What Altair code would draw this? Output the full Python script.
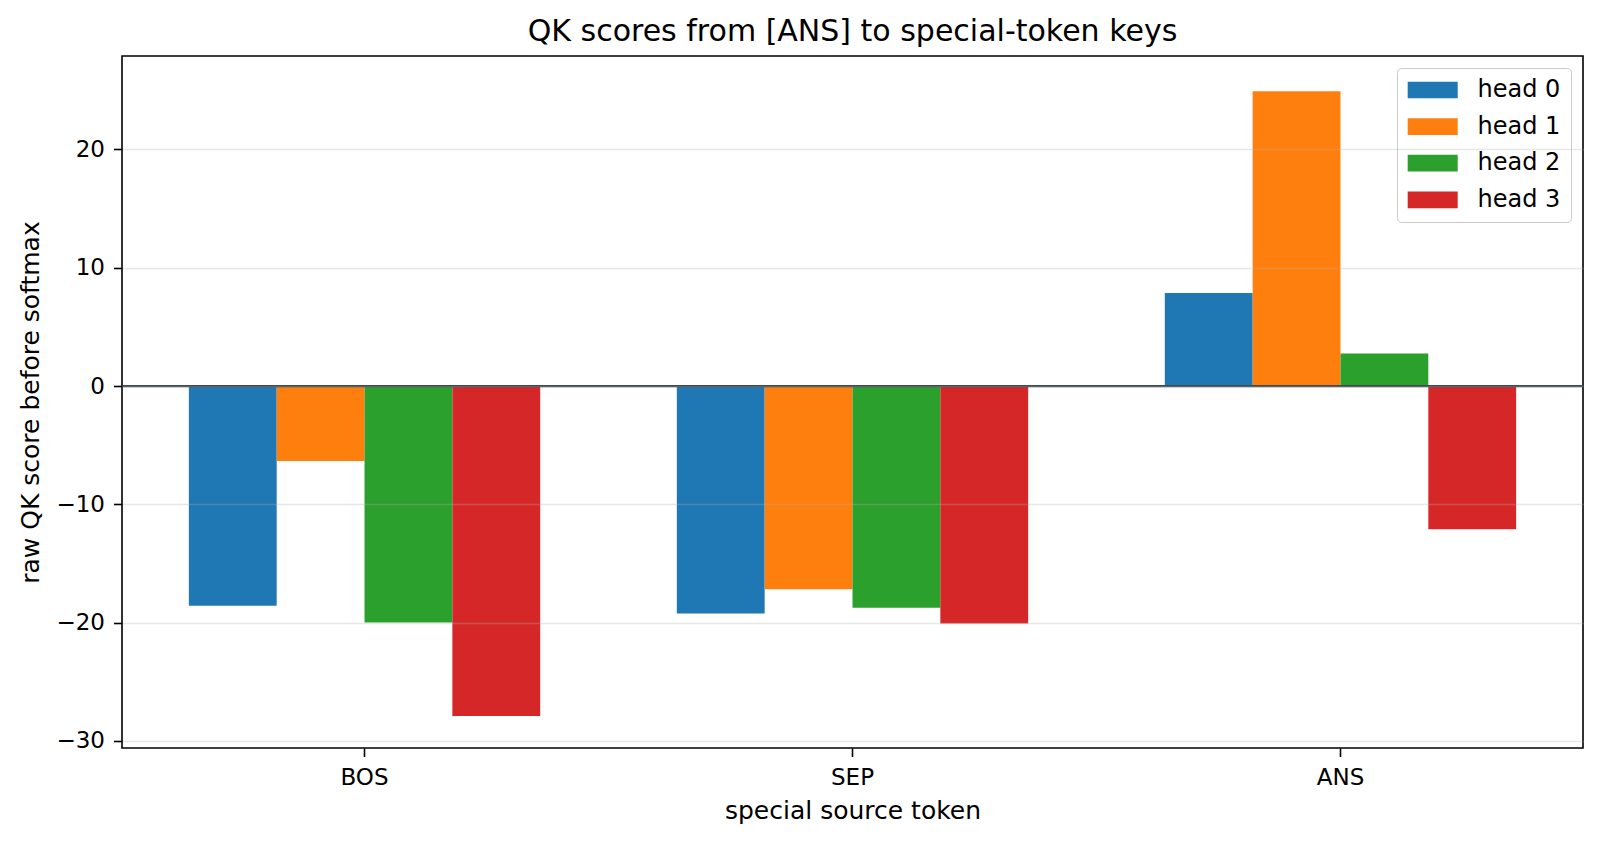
import altair as alt
import pandas as pd

# QK scores, one list per head
tokens = ["BOS", "SEP", "ANS"]
heads = ["head 0", "head 1", "head 2", "head 3"]
head0 = [-18.57, -19.24, 7.87]
head1 = [-6.33, -17.17, 24.93]
head2 = [-20.0, -18.74, 2.75]
head3 = [-27.9, -20.08, -12.1]
colors = ["#1f77b4", "#ff7f0e", "#2ca02c", "#d62728"]
y_ticks = [-30, -20, -10, 0, 10, 20]

FONT = "DejaVu Sans"

rows = []
for head, vals in zip(heads, [head0, head1, head2, head3]):
    for tok, v in zip(tokens, vals):
        rows.append({"token": tok, "head": head, "score": v})
df = pd.DataFrame(rows)

bars = (
    alt.Chart(df)
    .mark_bar()
    .encode(
        x=alt.X(
            "token:N",
            sort=tokens,
            scale=alt.Scale(paddingInner=0.28, paddingOuter=0.137),
            axis=alt.Axis(
                title="special source token",
                labelAngle=0,
                labelPadding=9.5,
                titlePadding=9,
                grid=False,
            ),
        ),
        xOffset=alt.XOffset("head:N", sort=heads, scale=alt.Scale(paddingInner=0, paddingOuter=0)),
        y=alt.Y(
            "score:Q",
            scale=alt.Scale(domain=[-30.6, 27.9], nice=False, zero=False),
            axis=alt.Axis(
                title="raw QK score before softmax",
                values=y_ticks,
                labelPadding=9,
                titlePadding=12,
                gridColor="#b0b0b0",
                gridOpacity=0.3,
                gridWidth=1.6,
                zindex=1,
            ),
        ),
        color=alt.Color(
            "head:N",
            sort=heads,
            scale=alt.Scale(domain=heads, range=colors),
            legend=alt.Legend(
                title=None,
                orient="top-right",
                offset=12,
                # wide flat swatch like matplotlib's legend patches (50x17 px)
                symbolType="M-3,-1H3V1H-3Z",
                symbolSize=278,
                symbolStrokeWidth=0,
                symbolOpacity=1,
                symbolOffset=13.7,
                labelOffset=32.8,
                labelFontSize=24,
                labelFont=FONT,
                labelColor="black",
                rowPadding=12.6,
                padding=10,
                strokeColor="#cccccc",
                fillColor="white",
                cornerRadius=4,
            ),
        ),
    )
)

zero = alt.Chart(pd.DataFrame({"y": [0]})).mark_rule(color="#37444c", strokeWidth=2.2).encode(y="y:Q")

chart = (
    alt.layer(bars, zero)
    .properties(
        width=1461,
        height=692,
        title=alt.TitleParams(
            "QK scores from [ANS] to special-token keys",
            fontSize=30,
            font=FONT,
            fontWeight="normal",
            color="black",
            anchor="middle",
            offset=9,
        ),
        autosize=alt.AutoSizeParams(type="none"),
        padding={"left": 114, "top": 48, "right": 5, "bottom": 80},
    )
    .configure_view(stroke="black", strokeWidth=1.6)
    .configure_axis(
        domain=False,
        tickColor="black",
        tickSize=8.5,
        tickWidth=1.6,
        labelFont=FONT,
        labelFontSize=23,
        labelColor="black",
        titleFont=FONT,
        titleFontSize=25,
        titleFontWeight="normal",
        titleColor="black",
    )
)

chart.save("out.html", embed_options={"renderer": "svg", "actions": False})
